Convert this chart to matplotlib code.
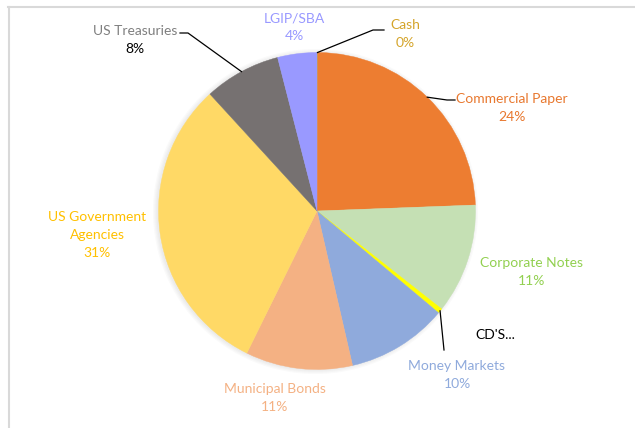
import numpy as np
import matplotlib
matplotlib.use("Agg")
import matplotlib.pyplot as plt
from matplotlib.patches import Circle

# slices, clockwise from 12 o'clock
labels = ["Cash", "Commercial Paper", "Corporate Notes", "CD'S", "Money Markets",
          "Municipal Bonds", "US Government Agencies", "US Treasuries", "LGIP/SBA"]
values = [0.1, 24.3, 11.2, 0.5, 10.3, 10.9, 30.9, 7.8, 4.0]
colors = ["#C9A02C", "#ED7D31", "#C5E0B4", "#FFFF00", "#8FAADC",
          "#F4B183", "#FFD966", "#767171", "#9999FF"]
text_colors = ["#D4A42A", "#E8782F", "#92D050", "#000000", "#8FAADC",
               "#F4B183", "#FFC000", "#7F7F7F", "#9999FF"]
label_text = ["Cash", "Commercial Paper", "Corporate Notes", "CD'S...", "Money Markets",
              "Municipal Bonds", "US Government\nAgencies", "US Treasuries", "LGIP/SBA"]

W, H = 635, 428
CX, CY, R = 317, 211, 158.5


def py(y):
    # pixel row -> data y
    return H - y


def main():
    plt.rcParams['font.family'] = ['Lato', 'DejaVu Sans']
    fig = plt.figure(figsize=(W / 100, H / 100), dpi=100)
    ax = fig.add_axes([0, 0, 1, 1])

    # soft shadow
    for k in range(4):
        ax.add_patch(Circle((CX - 1.5, py(CY) - 0.5), R + 0.5 + k * 1.2, color="#000000",
                            alpha=0.02, lw=0, zorder=1))

    wedges, _ = ax.pie(values, startangle=90, counterclock=False,
                       center=(CX, py(CY)), radius=R, colors=colors,
                       wedgeprops=dict(linewidth=0))
    for w in wedges:
        w.set_zorder(2)
        w.set_edgecolor(w.get_facecolor())
        w.set_linewidth(0.3)

    ax.set_xlim(0, W)
    ax.set_ylim(0, H)
    ax.set_aspect('equal')
    ax.axis('off')

    # chart frame (top and left edges visible)
    ax.plot([8, W], [py(6.5), py(6.5)], color="#D9D9D9", lw=1.5)
    ax.plot([8.5, 8.5], [py(6.5), 0], color="#D9D9D9", lw=1.5)

    pct = [f"{round(v)}%" for v in values]

    # label positions (pixel centres of first line)
    pos = {
        "Cash": (405, 25),
        "Commercial Paper": (512, 99),
        "Corporate Notes": (532, 263),
        "CD'S": (495, 335),
        "Money Markets": (457, 366),
        "Municipal Bonds": (275, 389),
        "US Government Agencies": (97, 217),
        "US Treasuries": (135, 31),
        "LGIP/SBA": (294, 18),
    }

    fs = 10
    for i, name in enumerate(labels):
        x, y = pos[name]
        lines = label_text[i].split("\n")
        for j, ln in enumerate(lines):
            ax.text(x, py(y + 18 * j), ln, ha="center", va="center",
                    fontsize=fs, color=text_colors[i])
        if name != "CD'S":
            c = "#000000" if name == "US Treasuries" else text_colors[i]
            ax.text(x, py(y + 18 * len(lines)), pct[i], ha="center", va="center",
                    fontsize=fs, color=c)

    # leader lines from wedge mid-angle on the rim
    def rim(i):
        w = wedges[i]
        a = np.deg2rad((w.theta1 + w.theta2) / 2)
        return CX + R * np.cos(a), py(CY) + R * np.sin(a)

    leaders = {
        "US Treasuries": [(180, 33), (188, 33)],
        "Cash": [(384, 30), (373, 30)],
        "Commercial Paper": [(455, 100), (447, 100)],
        "CD'S": [(444, 350)],
    }
    for name, pts in leaders.items():
        i = labels.index(name)
        xs = [p[0] for p in pts]
        ys = [py(p[1]) for p in pts]
        rx, ry = rim(i)
        ax.plot(xs + [rx], ys + [ry], color="black", lw=0.9, zorder=3)

    fig.savefig("out.png", dpi=100)


if __name__ == '__main__':
    main()
